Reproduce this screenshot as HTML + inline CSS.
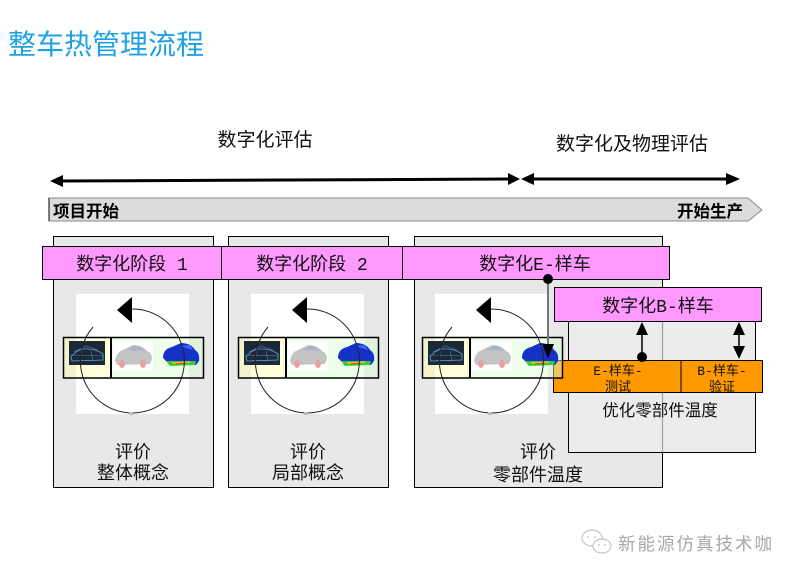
<!DOCTYPE html>
<html><head><meta charset="utf-8"><style>
html,body{margin:0;padding:0;background:#fff;}
svg{display:block;}
text{font-family:"Liberation Sans","Noto Sans CJK SC",sans-serif;}
.ser{font-family:"Liberation Mono","Noto Sans CJK SC",monospace;}
</style></head><body>
<svg width="803" height="578" viewBox="0 0 803 578" xmlns="http://www.w3.org/2000/svg">
<defs>
<g id="cyc">
  <rect x="76" y="294" width="113" height="120" fill="#fff"/>
  <rect x="63" y="337" width="48" height="41" fill="rgba(255,255,170,0.45)"/>
  <rect x="111" y="337" width="92" height="41" fill="rgba(215,255,210,0.45)"/>
  <rect x="69" y="341" width="36" height="24" fill="#1b2838"/>
  <path d="M71,357 Q78,348 88,349 Q96,349 103,354 L103,360 L72,361 Z" fill="none" stroke="#6fa6d6" stroke-width="0.8"/>
  <path d="M74,352 L86,346 L98,350 M80,361 L82,350 M93,361 L91,351 M70,355 L104,356" fill="none" stroke="#4d86b8" stroke-width="0.6"/>
  <rect x="113" y="341" width="40" height="30" fill="#fff"/>
  <path d="M115,361 Q116,352 125,349 L133,345 Q142,345 147,351 Q152,353 152,359 L150,364 L117,365 Z" fill="#c4c4c4"/>
  <path d="M127,350 L134,346 Q141,346 145,351 Z" fill="#a9b4c2"/>
  <ellipse cx="122" cy="364" rx="3" ry="4" fill="#e7a0a4"/>
  <ellipse cx="143" cy="364" rx="3" ry="4" fill="#e7a0a4"/>
  <path d="M163,358 Q163,349 172,347 L181,343 Q191,343 195,350 Q200,353 199,361 L196,365 L170,365 Z" fill="#1432c8"/>
  <path d="M166,361 L196,361 L195,365 L170,366 Z" fill="#3cc83c"/>
  <path d="M172,363 L190,362" stroke="#e8c020" stroke-width="1.5"/>
  <path d="M176,364 L186,363" stroke="#e04020" stroke-width="1"/>
  <path d="M180,346 L190,345 L193,350 Z" fill="#3c64ff"/>
  <path d="M131,309 A52,52 0 1 1 93,327" fill="none" stroke="#222" stroke-width="1"/>
  <rect x="129" y="412" width="4" height="3" fill="#bbb"/>
  <rect x="63.5" y="337.5" width="140" height="40.5" fill="none" stroke="#000" stroke-width="1.5"/>
  <line x1="111" y1="337" x2="111" y2="378" stroke="#000" stroke-width="2"/>
  <polygon points="117,310 132,297 132,323" fill="#000"/>
</g>
</defs>

<text x="8" y="54" font-size="28" fill="#1ea2e4">整车热管理流程</text>

<text x="265" y="146" font-size="19" fill="#111" text-anchor="middle">数字化评估</text>
<text x="632" y="150" font-size="19" fill="#111" text-anchor="middle">数字化及物理评估</text>

<line x1="60" y1="181" x2="510" y2="179" stroke="#000" stroke-width="3"/>
<polygon points="50,181 63,175 63,187" fill="#000"/>
<polygon points="520,179 508,173 508,185" fill="#000"/>
<line x1="530" y1="179" x2="730" y2="179" stroke="#000" stroke-width="3"/>
<polygon points="521,179 534,173 534,185" fill="#000"/>
<polygon points="740,179 726,173 726,185" fill="#000"/>

<polygon points="49,198 748,198 762,210 748,221 49,221" fill="#dcdcdc" stroke="#8a8a8a" stroke-width="1"/>
<line x1="49" y1="198" x2="49" y2="221" stroke="#000" stroke-width="1"/>
<text x="53" y="217" font-size="16.5" font-weight="bold" fill="#000">项目开始</text>
<text x="743" y="217" font-size="16.5" font-weight="bold" fill="#000" text-anchor="end">开始生产</text>

<rect x="53.5" y="236.5" width="160" height="251" fill="#e8e8e8" stroke="#000" stroke-width="1"/>
<rect x="228.5" y="236.5" width="160" height="251" fill="#e8e8e8" stroke="#000" stroke-width="1"/>
<rect x="414.5" y="236.5" width="248" height="251" fill="#e8e8e8" stroke="#000" stroke-width="1"/>

<rect x="42.5" y="246.5" width="179" height="33" fill="#ff99ff" stroke="#000" stroke-width="1"/>
<rect x="221.5" y="246.5" width="181" height="33" fill="#ff99ff" stroke="#000" stroke-width="1"/>
<rect x="402.5" y="246.5" width="267" height="33" fill="#ff99ff" stroke="#000" stroke-width="1"/>
<text x="132" y="270" font-size="18" fill="#111" text-anchor="middle" class="ser">数字化阶段 1</text>
<text x="312" y="270" font-size="18" fill="#111" text-anchor="middle" class="ser">数字化阶段 2</text>
<text x="535" y="270" font-size="18" fill="#111" text-anchor="middle" class="ser">数字化E-样车</text>

<rect x="568.5" y="300.5" width="187" height="152" fill="#ececec" stroke="#000" stroke-width="1"/>
<line x1="662.5" y1="320" x2="662.5" y2="452" stroke="#a0a0a0" stroke-width="1.2"/>
<rect x="554.5" y="287.5" width="207" height="34" fill="#ff99ff" stroke="#000" stroke-width="1"/>
<text x="658" y="312" font-size="18" fill="#111" text-anchor="middle" class="ser">数字化B-样车</text>

<rect x="553.5" y="360.5" width="209" height="32" fill="#ff9900" stroke="#000" stroke-width="1"/>
<line x1="681" y1="360" x2="681" y2="393" stroke="#000" stroke-width="1"/>
<text x="618" y="375" font-size="13" fill="#111" text-anchor="middle" class="ser">E-样车-</text>
<text x="618" y="391" font-size="13" fill="#111" text-anchor="middle" class="ser">测试</text>
<text x="722" y="375" font-size="13" fill="#111" text-anchor="middle" class="ser">B-样车-</text>
<text x="722" y="391" font-size="13" fill="#111" text-anchor="middle" class="ser">验证</text>
<text x="660" y="416" font-size="16.5" fill="#111" text-anchor="middle">优化零部件温度</text>

<use href="#cyc"/>
<use href="#cyc" transform="translate(175,0)"/>
<use href="#cyc" transform="translate(359,0)"/>

<text x="133" y="458" font-size="18" fill="#111" text-anchor="middle">评价</text>
<text x="133" y="479" font-size="18" fill="#111" text-anchor="middle">整体概念</text>
<text x="308" y="458" font-size="18" fill="#111" text-anchor="middle">评价</text>
<text x="308" y="479" font-size="18" fill="#111" text-anchor="middle">局部概念</text>
<text x="538" y="458" font-size="18" fill="#111" text-anchor="middle">评价</text>
<text x="538" y="481" font-size="18" fill="#111" text-anchor="middle">零部件温度</text>

<line x1="548" y1="279" x2="548" y2="345" stroke="#777" stroke-width="2"/>
<circle cx="548" cy="279" r="5" fill="#000"/>
<polygon points="548,358 542,344 554,344" fill="#000"/>

<line x1="642" y1="334" x2="642" y2="358" stroke="#000" stroke-width="1.5"/>
<polygon points="642,322 636,335 648,335" fill="#000"/>
<circle cx="642" cy="357" r="5" fill="#000"/>

<line x1="739" y1="334" x2="739" y2="347" stroke="#000" stroke-width="1.5"/>
<polygon points="739,322 733,335 745,335" fill="#000"/>
<polygon points="739,359 733,346 745,346" fill="#000"/>

<g fill="none" stroke="#c4c4c4" stroke-width="1.2">
  <ellipse cx="592" cy="538" rx="10" ry="8"/>
  <ellipse cx="602" cy="546" rx="9" ry="7" fill="#fff"/>
</g>
<circle cx="588" cy="537" r="0.9" fill="#bbb"/>
<circle cx="595" cy="537" r="0.9" fill="#bbb"/>
<circle cx="599" cy="545" r="0.9" fill="#bbb"/>
<circle cx="605" cy="545" r="0.9" fill="#bbb"/>
<text x="618" y="550" font-size="17.5" fill="#a8a8a8" letter-spacing="2">新能源仿真技术咖</text>
</svg>
</body></html>
